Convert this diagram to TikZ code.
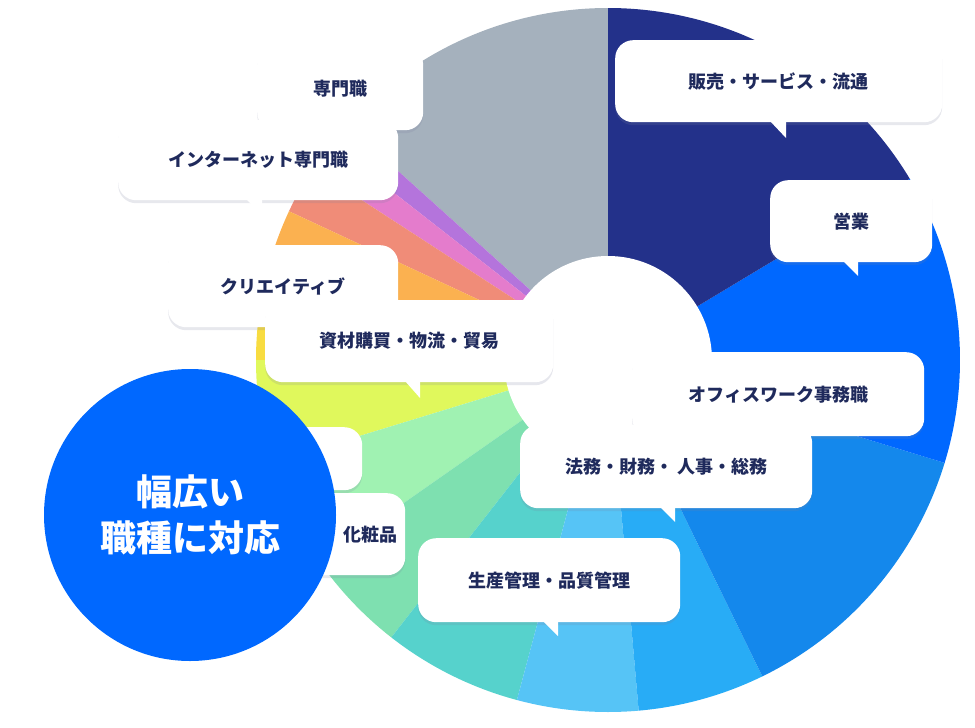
\documentclass[tikz,border=0pt]{standalone}
\usepackage{fontspec}
\setmainfont{Noto Sans CJK JP}
\usetikzlibrary{shadows}
\definecolor{inkc}{HTML}{1F2A5C}
\definecolor{cgray}{HTML}{A5B1BD}
\definecolor{cpurple}{HTML}{B474DC}
\definecolor{cpink}{HTML}{E47CCC}
\definecolor{csalmon}{HTML}{F08C78}
\definecolor{corange}{HTML}{FBB150}
\definecolor{cyellow}{HTML}{F8DC40}
\definecolor{clime}{HTML}{E0F85C}
\definecolor{clgreen}{HTML}{A0F2B2}
\definecolor{cmint}{HTML}{7EE0B0}
\definecolor{cteal}{HTML}{56D2CC}
\definecolor{clblue}{HTML}{56C4F6}
\definecolor{csky}{HTML}{28ACF6}
\definecolor{cmblue}{HTML}{1488EC}
\definecolor{cbblue}{HTML}{0068FF}
\definecolor{cnavy}{HTML}{23318A}
\begin{document}
\begin{tikzpicture}[
  x=1pt, y=-1pt,
  font=\bfseries\fontsize{18}{20}\selectfont,
  bubble/.style = {rectangle,
                   rounded corners=18pt,
                   fill=white,
                   text=inkc,
                   anchor=north west,
                   drop shadow={shadow xshift=0pt, shadow yshift=-3pt,
                                opacity=0.18, fill=inkc!60},
                   inner sep=0pt},
  tail/.style   = {fill=white}
]
\useasboundingbox (0,0) rectangle (975,728);

% pie slices
\coordinate (ctr) at (608,360);
\foreach \a/\b/\c in {90/138/cgray, 138/142/cpurple, 142/147/cpink,
    147/155/csalmon, 155/168/corange, 168/180/cyellow, 180/197/clime,
    197/215/clgreen, 215/232/cmint, 232/255/cteal, 255/275/clblue,
    275/296/csky, 296/343/cmblue, 343/391/cbblue, 391/450/cnavy}
  \fill[\c] (ctr) -- ++(-\a:352) arc[start angle=-\a, end angle=-\b, radius=352] -- cycle;
\fill[white] (ctr) circle[radius=104];

% bubbles
\node[bubble, minimum width=166, minimum height=83] (senmon) at (257,47) {専門職};
\node[bubble, minimum width=280, minimum height=80] (inet) at (118,120) {インターネット専門職};
\fill[tail] (246,199) -- (262,199) -- (262,215) -- cycle;
\node[bubble, minimum width=230, minimum height=82] (creative) at (168,245) {クリエイティブ};
\node[bubble, minimum width=288, minimum height=82] (shizai) at (265,300) {資材購買・物流・貿易};
\fill[tail] (405,381) -- (420,381) -- (420,398) -- cycle;
\node[bubble, minimum width=327, minimum height=82] (hanbai) at (615,40) {販売・サービス・流通};
\fill[tail] (770,121) -- (786,121) -- (786,138) -- cycle;
\node[bubble, minimum width=162, minimum height=82] (eigyo) at (770,180) {営業};
\fill[tail] (843,261) -- (858,261) -- (858,276) -- cycle;
\node[bubble, minimum width=292, minimum height=84] (office) at (632,352) {オフィスワーク事務職};
\node[bubble, minimum width=292, minimum height=83] (houmu) at (520,425) {法務・財務・ 人事・総務};
\fill[tail] (660,507) -- (675,507) -- (675,522) -- cycle;
\node[bubble, minimum width=80, minimum height=63] (hidden) at (282,427) {};
\node[bubble, minimum width=120, minimum height=82, text width=110, align=right] (keshou) at (285,493) {化粧品\hspace*{3pt}};
\node[bubble, minimum width=262, minimum height=84] (seisan) at (418,538) {生産管理・品質管理};
\fill[tail] (543,621) -- (558,621) -- (558,636) -- cycle;

% big label
\node[circle, fill=cbblue, minimum size=292, text=white, align=center,
      font=\bfseries\fontsize{36}{46}\selectfont] (wide) at (190,515)
      {幅広い\\職種に対応};
\end{tikzpicture}
\end{document}
